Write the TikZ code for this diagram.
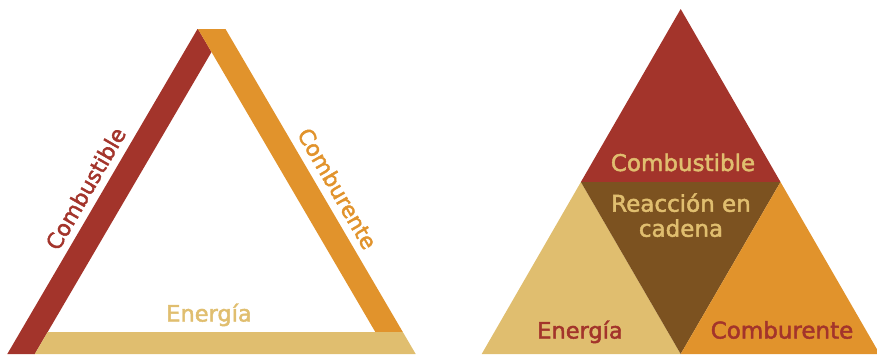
\documentclass[tikz,border=0pt]{standalone}
\usepackage{fontspec}
\setmainfont{DejaVu Sans}
\newfontface\medfont{DejaVu Sans}[FakeBold=2]
\definecolor{fred}{HTML}{A3342B}
\definecolor{forange}{HTML}{E1932C}
\definecolor{fyellow}{HTML}{E0BE6F}
\definecolor{fbrown}{HTML}{7C5220}
\tikzset{
  lbl/.style={inner sep=0pt, font=\medfont\fontsize{21.8}{25}\selectfont},
  rlbl/.style={inner sep=0pt, anchor=base, font=\medfont\fontsize{23}{25}\selectfont, align=center},
}
\begin{document}
\begin{tikzpicture}[x=1pt,y=-1pt]
\useasboundingbox (0,0) rectangle (877,354);
\begin{scope}
\clip (0,0) rectangle (877,354);
% left triangle bands
\fill[fred] (197.5,29) -- (198,29) -- (211.5,52) -- (34.8,354) -- (7.3,354) -- cycle;
\fill[forange] (198,29) -- (225.5,29) -- (402.8,332) -- (375.3,332) -- (211.5,52) -- cycle;
\fill[fyellow] (47.7,332) -- (402.8,332) -- (415.7,354) -- (34.8,354) -- cycle;
% right triangle
\fill[fred] (680.7,9) -- (780.5,182) -- (580.9,182) -- cycle;
\fill[fyellow] (580.9,182) -- (680.7,354) -- (481.7,354) -- cycle;
\fill[fbrown] (580.9,182) -- (780.5,182) -- (680.7,354) -- cycle;
\fill[forange] (780.5,182) -- (879.7,354) -- (680.7,354) -- cycle;
\end{scope}
% left labels
\node[lbl, text=fred, rotate=60] (lcomb) at (85.5,188.5) {Combustible};
\node[lbl, text=forange, rotate=-60] (lcomr) at (337.5,188.5) {Comburente};
\node[rlbl, text=fyellow, font=\medfont\fontsize{22.5}{25}\selectfont] (lener) at (209,321.5) {Energía};
% right labels
\node[rlbl, text=fyellow] (rcomb) at (683,171) {Combustible};
\node[rlbl, text=fyellow] (rreac) at (681,236.7) {Reacción en\\cadena};
\node[rlbl, text=fred, font=\medfont\fontsize{22.5}{25}\selectfont] (rener) at (580,338.5) {Energía};
\node[rlbl, text=fred] (rcomr) at (782,338.5) {Comburente};
\end{tikzpicture}
\end{document}
